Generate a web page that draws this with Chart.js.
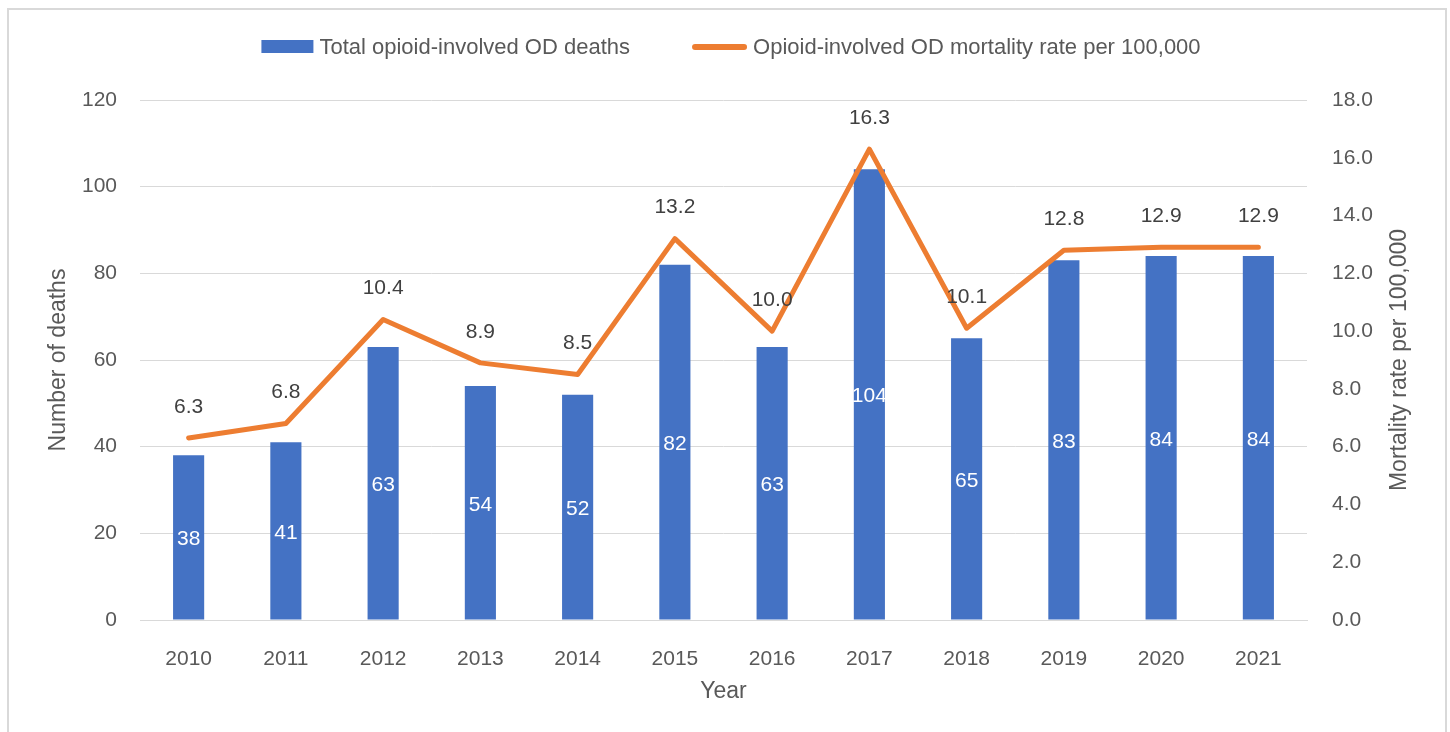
<!DOCTYPE html>
<html>
<head>
<title>Opioid OD deaths</title>
<style>
body {
    margin: 0;
    background: #ffffff;
    overflow: hidden;
}
</style>
</head>
<body>
<script src="https://cdn.jsdelivr.net/npm/chart.js"></script>
<canvas id="myChart" width="1450" height="732"></canvas>
<script>
    // data
    const years = ['2010', '2011', '2012', '2013', '2014', '2015', '2016', '2017', '2018', '2019', '2020', '2021'];
    const deaths = [38, 41, 63, 54, 52, 82, 63, 104, 65, 83, 84, 84];
    const rates = [6.3, 6.8, 10.4, 8.9, 8.5, 13.2, 10.0, 16.3, 10.1, 12.8, 12.9, 12.9];
    const seriesNames = ['Total opioid-involved OD deaths', 'Opioid-involved OD mortality rate per 100,000'];
    const axisTitles = ['Number of deaths', 'Mortality rate per 100,000', 'Year'];

    const blue = '#4472C4';
    const orange = '#ED7D31';
    const font = '"Liberation Sans", Arial, sans-serif';

    // grey frame round the whole picture
    const frame = {
        id: 'frame',
        beforeDraw(chart) {
            const ctx = chart.ctx;
            ctx.save();
            ctx.strokeStyle = '#d9d9d9';
            ctx.lineWidth = 2;
            ctx.strokeRect(8, 9, 1438, 760);
            ctx.restore();
        }
    };

    // value labels: inside the bars (white) and above the line points
    const valueLabels = {
        id: 'valueLabels',
        afterDatasetsDraw(chart) {
            const ctx = chart.ctx;
            ctx.save();
            ctx.font = '21px ' + font;
            ctx.textAlign = 'center';
            ctx.textBaseline = 'middle';
            chart.getDatasetMeta(0).data.forEach((bar, i) => {
                ctx.fillStyle = '#ffffff';
                ctx.fillText(deaths[i], bar.x, (bar.y + bar.base) / 2 + 2);
            });
            chart.getDatasetMeta(1).data.forEach((pt, i) => {
                ctx.fillStyle = '#404040';
                ctx.fillText(rates[i].toFixed(1), pt.x, pt.y - 31);
            });
            ctx.restore();
        }
    };

    // one-row legend at the top + right axis title (reads bottom to top, like the left one)
    const legendRow = {
        id: 'legendRow',
        afterDraw(chart) {
            const ctx = chart.ctx;
            ctx.save();
            ctx.font = '22px ' + font;
            ctx.textBaseline = 'middle';
            const items = [
                { name: seriesNames[0], color: blue, kind: 'box', w: 52 },
                { name: seriesNames[1], color: orange, kind: 'line', w: 55 }
            ];
            let total = 62;
            items.forEach(it => {
                it.tw = ctx.measureText(it.name).width;
                total += it.w + 6 + it.tw;
            });
            let x = 731 - total / 2;
            const y = 47;
            items.forEach(it => {
                if (it.kind === 'box') {
                    ctx.fillStyle = it.color;
                    ctx.fillRect(x, y - 7, it.w, 13);
                } else {
                    ctx.strokeStyle = it.color;
                    ctx.lineWidth = 6;
                    ctx.lineCap = 'round';
                    ctx.beginPath();
                    ctx.moveTo(x + 3, y);
                    ctx.lineTo(x + it.w - 3, y);
                    ctx.stroke();
                }
                x += it.w + 6;
                ctx.fillStyle = '#595959';
                ctx.fillText(it.name, x, y + 1);
                x += it.tw + 62;
            });

            const area = chart.chartArea;
            ctx.translate(1400, (area.top + area.bottom) / 2);
            ctx.rotate(-Math.PI / 2);
            ctx.font = '23px ' + font;
            ctx.textAlign = 'center';
            ctx.fillStyle = '#595959';
            ctx.fillText(axisTitles[1], 0, 0);
            ctx.restore();
        }
    };

    const tickFont = { family: font, size: 21 };
    const titleFont = { family: font, size: 23 };

    const ctx = document.getElementById('myChart').getContext('2d');
    const myChart = new Chart(ctx, {
        type: 'bar',
        data: {
            labels: years,
            datasets: [{
                type: 'bar',
                label: seriesNames[0],
                data: deaths,
                backgroundColor: blue,
                yAxisID: 'y',
                barPercentage: 0.32,
                categoryPercentage: 1,
                order: 1
            }, {
                type: 'line',
                label: seriesNames[1],
                data: rates,
                borderColor: orange,
                backgroundColor: orange,
                borderWidth: 5,
                pointRadius: 0,
                borderJoinStyle: 'round',
                borderCapStyle: 'round',
                tension: 0,
                yAxisID: 'y1',
                order: 0
            }]
        },
        options: {
            responsive: false,
            animation: false,
            layout: { padding: { top: 100, left: 0, right: 0, bottom: 0 } },
            plugins: {
                legend: { display: false },
                tooltip: { enabled: false }
            },
            scales: {
                x: {
                    grid: { display: false },
                    border: { display: true, color: '#d9d9d9', width: 1 },
                    ticks: { color: '#595959', font: tickFont, padding: 19, maxRotation: 0 },
                    title: { display: true, text: axisTitles[2], color: '#595959', font: titleFont, padding: { top: 0, bottom: 27 } },
                    afterFit(scale) { scale.height = 112; }
                },
                y: {
                    position: 'left',
                    min: 0,
                    max: 120,
                    ticks: { stepSize: 20, color: '#595959', font: tickFont, padding: 23 },
                    grid: { color: '#d9d9d9', lineWidth: 1, drawTicks: false },
                    border: { display: false },
                    title: { display: true, text: axisTitles[0], color: '#595959', font: titleFont, padding: { top: 45, bottom: 0 } },
                    afterFit(scale) { scale.width = 140; }
                },
                y1: {
                    position: 'right',
                    min: 0,
                    max: 18,
                    ticks: {
                        stepSize: 2,
                        color: '#595959',
                        font: tickFont,
                        padding: 25,
                        callback: v => v.toFixed(1)
                    },
                    grid: { display: false, drawTicks: false },
                    border: { display: false },
                    afterFit(scale) { scale.width = 143; }
                }
            }
        },
        plugins: [frame, valueLabels, legendRow]
    });
</script>
</body>
</html>
